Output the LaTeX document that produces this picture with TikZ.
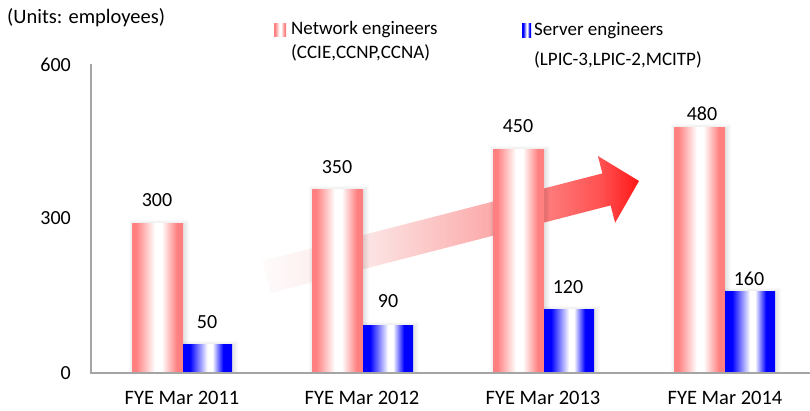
\documentclass[tikz,border=0pt]{standalone}
\usepackage{fontspec}
\setmainfont{Carlito}

% series and axis colours
\definecolor{netpink}{RGB}{255,128,128}
\definecolor{srvblue}{RGB}{0,0,255}
\definecolor{axisgray}{RGB}{165,165,165}
% colours along the trend arrow, tail to tip
\definecolor{arrowA}{RGB}{254,251,251}
\definecolor{arrowB}{RGB}{252,228,228}
\definecolor{arrowC}{RGB}{252,172,172}
\definecolor{arrowD}{RGB}{255,80,80}
\definecolor{arrowE}{RGB}{255,22,22}

% cylinder-like bar fills: coloured edges, white centre
\pgfdeclarehorizontalshading{netbar}{100bp}{color(0bp)=(netpink); color(29bp)=(netpink); color(47.5bp)=(white); color(54bp)=(white); color(69bp)=(netpink); color(100bp)=(netpink)}
\pgfdeclarehorizontalshading{srvbar}{100bp}{color(0bp)=(srvblue); color(32bp)=(srvblue); color(50bp)=(white); color(55bp)=(white); color(66bp)=(srvblue); color(100bp)=(srvblue)}
\pgfdeclarehorizontalshading{trendarrow}{100bp}{color(0bp)=(arrowA); color(25bp)=(arrowA); color(39bp)=(arrowB); color(55bp)=(arrowC); color(70bp)=(arrowD); color(75bp)=(arrowE); color(100bp)=(arrowE)}

\tikzset{
  txt/.style={inner sep=0pt, font=\fontsize{20.5}{24}\selectfont},
  valtxt/.style={inner sep=0pt, font=\fontsize{20}{24}\selectfont},
  legtxt/.style={inner sep=0pt, anchor=west, font=\fontsize{19}{23}\selectfont},
  axisline/.style={draw=axisgray, line width=1.3pt},
}

% soft shadow behind a bar: #1 left, #2 right, #3 top
\newcommand\barshadow[3]{%
  \foreach \r in {1,...,5}{%
    \fill[black,opacity=0.02] (#1-\r+1.5,#3-\r+1.5) rectangle (#2+\r+1,373);}}
% shaded bar: #1 left, #2 right, #3 top, #4 shading name
\newcommand\plotbar[4]{\shade[shading=#4] (#1,#3) rectangle (#2,373);}

\begin{document}
\begin{tikzpicture}[x=1pt,y=-1pt]
\useasboundingbox (0,0) rectangle (810,410);
\fill[white] (0,0) rectangle (810,410);

% growth arrow behind the bars
\shade[shading=trendarrow]
  (262.4,261.0) -- (602.4,173.4) -- (597.9,156.0) -- (639,181)
  -- (615.1,222.8) -- (610.6,205.4) -- (270.6,293.0) -- cycle;

% shadows first, then the bars
\barshadow{132}{183}{223}\barshadow{183}{232}{344}
\barshadow{312}{363}{189}\barshadow{363}{413}{325}
\barshadow{493}{544}{149}\barshadow{544}{594}{309}
\barshadow{674}{725}{127}\barshadow{725}{775}{291}

\plotbar{132}{183}{223}{netbar}\plotbar{183}{232}{344}{srvbar}
\plotbar{312}{363}{189}{netbar}\plotbar{363}{413}{325}{srvbar}
\plotbar{493}{544}{149}{netbar}\plotbar{544}{594}{309}{srvbar}
\plotbar{674}{725}{127}{netbar}\plotbar{725}{775}{291}{srvbar}

% axes
\draw[axisline] (91,64) -- (91,373) -- (810,373);

% unit caption and y tick labels
\node[txt, anchor=west] (units) at (7,18) {(Units: employees)};
\node[valtxt, anchor=east] (y600) at (71,65) {600};
\node[valtxt, anchor=east] (y300) at (71,218) {300};
\node[valtxt, anchor=east] (y0) at (71,373) {0};

% value labels
\node[valtxt] (v11n) at (157,200) {300};
\node[valtxt] (v11s) at (207,322) {50};
\node[valtxt] (v12n) at (337,167) {350};
\node[valtxt] (v12s) at (388,301) {90};
\node[valtxt] (v13n) at (518,126) {450};
\node[valtxt] (v13s) at (568,287) {120};
\node[valtxt] (v14n) at (702,114) {480};
\node[valtxt] (v14s) at (749,279) {160};

% category labels
\node[txt] (c11) at (182,398) {FYE Mar 2011};
\node[txt] (c12) at (362,398) {FYE Mar 2012};
\node[txt] (c13) at (543,398) {FYE Mar 2013};
\node[txt] (c14) at (725,398) {FYE Mar 2014};

% legend
\shade[shading=netbar] (274,23) rectangle (286,36);
\node[legtxt] (lnet1) at (291,30) {Network engineers};
\node[legtxt] (lnet2) at (291,53) {(CCIE,CCNP,CCNA)};
\shade[shading=srvbar] (522,23) rectangle (531,37);
\node[legtxt] (lsrv1) at (534,31) {Server engineers};
\node[legtxt] (lsrv2) at (534,60) {(LPIC-3,LPIC-2,MCITP)};
\end{tikzpicture}
\end{document}
